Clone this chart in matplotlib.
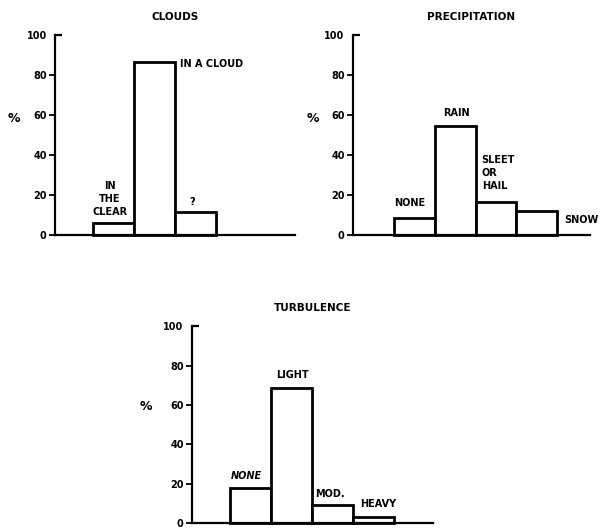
import matplotlib
matplotlib.use("Agg")
import matplotlib.pyplot as plt

# 데이터 (그림에서 읽은 값, %)
cloud_labels = ["IN\nTHE\nCLEAR", "IN A CLOUD", "?"]
cloud_vals = [5.8, 86.3, 11.3]

precip_labels = ["NONE", "RAIN", "SLEET\nOR\nHAIL", "SNOW"]
precip_vals = [8.3, 54.5, 16.3, 12.2]

turb_labels = ["NONE", "LIGHT", "MOD.", "HEAVY"]
turb_vals = [17.7, 68.5, 9.2, 3.3]

yticks = [0, 20, 40, 60, 80]

plt.rcParams['font.family'] = ['DejaVu Sans']
FS = 7

fig = plt.figure(figsize=(6.06, 5.29), dpi=100)


def setup(ax, title, xmax, ylab_x, ylab_y):
    ax.set_xlim(0, xmax)
    ax.set_ylim(0, 100)
    for s in ['top', 'right']:
        ax.spines[s].set_visible(False)
    ax.spines['left'].set_linewidth(1.6)
    ax.spines['bottom'].set_linewidth(1.6)
    ax.set_xticks([])
    ax.set_yticks(yticks)
    ax.set_yticklabels([str(t) for t in yticks], fontsize=FS, fontweight='bold')
    # 100 눈금은 안쪽으로
    ax.set_yticks([100], minor=True)
    ax.set_yticklabels(['100'], minor=True, fontsize=FS, fontweight='bold')
    ax.tick_params(axis='y', which='major', direction='out', length=4, width=1.3, pad=2)
    ax.tick_params(axis='y', which='minor', direction='in', length=5, width=1.6, pad=6)
    ax.set_title(title, fontsize=7.5, fontweight='bold', pad=11)
    ax.set_ylabel('%', rotation=0, fontsize=9, fontweight='bold')
    ax.yaxis.set_label_coords(ylab_x, ylab_y)


def bars(ax, vals, x0):
    xs = [x0 + i for i in range(len(vals))]
    ax.bar(xs, vals, width=1.0, align='edge', facecolor='white',
           edgecolor='black', linewidth=2.0, clip_on=False)
    return xs


# 구름
ax1 = fig.add_axes([0.0908, 0.5558, 0.396, 0.378])
setup(ax1, "CLOUDS", 5.85, -0.17, 0.55)
xs = bars(ax1, cloud_vals, 0.93)
ax1.text(xs[0] + 0.4, cloud_vals[0] + 3, cloud_labels[0], ha='center', va='bottom',
         fontsize=FS, fontweight='bold', linespacing=1.4)
ax1.text(xs[1] + 1.12, cloud_vals[1] - 1, cloud_labels[1], ha='left', va='center',
         fontsize=FS, fontweight='bold')
ax1.text(xs[2] + 0.42, cloud_vals[2] + 5, cloud_labels[2], ha='center', va='center',
         fontsize=FS, fontweight='bold')

# 강수
ax2 = fig.add_axes([0.5825, 0.5558, 0.391, 0.378])
setup(ax2, "PRECIPITATION", 5.8, -0.17, 0.55)
xs = bars(ax2, precip_vals, 1.0)
ax2.text(xs[0] + 0.38, precip_vals[0] + 7.7, precip_labels[0], ha='center', va='center',
         fontsize=FS, fontweight='bold')
ax2.text(xs[1] + 0.52, precip_vals[1] + 6.5, precip_labels[1], ha='center', va='center',
         fontsize=FS, fontweight='bold')
ax2.text(xs[2] + 0.15, precip_vals[2] + 14.7, precip_labels[2], ha='left', va='center',
         fontsize=FS, fontweight='bold', linespacing=1.35)
ax2.text(xs[3] + 1.17, precip_vals[3] - 4.7, precip_labels[3], ha='left', va='center',
         fontsize=FS, fontweight='bold', clip_on=False)

# 난류
ax3 = fig.add_axes([0.3168, 0.0113, 0.398, 0.372])
setup(ax3, "TURBULENCE", 5.88, -0.19, 0.56)
xs = bars(ax3, turb_vals, 0.93)
ax3.text(xs[0] + 0.39, turb_vals[0] + 6.3, turb_labels[0], ha='center', va='center',
         fontsize=FS, fontweight='bold', style='italic')
ax3.text(xs[1] + 0.51, turb_vals[1] + 6.5, turb_labels[1], ha='center', va='center',
         fontsize=FS, fontweight='bold')
ax3.text(xs[2] + 0.07, turb_vals[2] + 5.8, turb_labels[2], ha='left', va='center',
         fontsize=FS, fontweight='bold')
ax3.text(xs[3] + 0.17, turb_vals[3] + 6.2, turb_labels[3], ha='left', va='center',
         fontsize=FS, fontweight='bold')

fig.savefig("out.png", dpi=100)
